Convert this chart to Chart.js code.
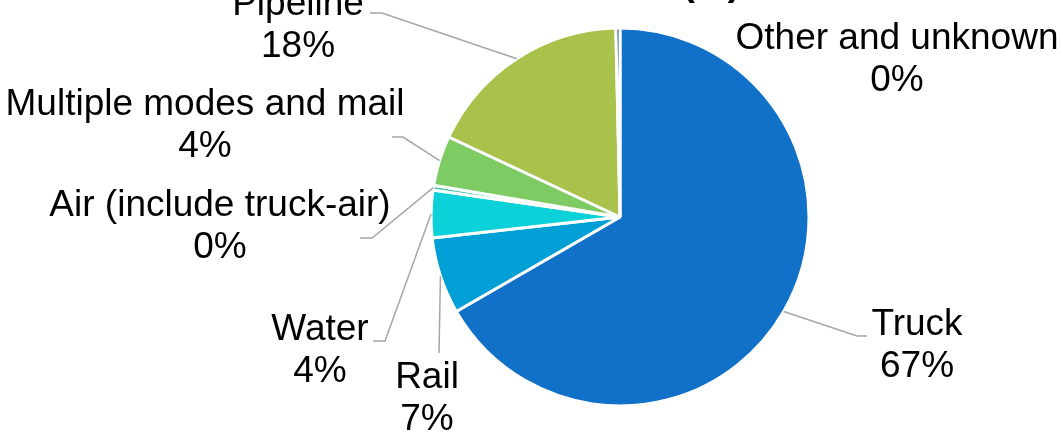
<!DOCTYPE html>
<html>
<head>
<meta charset="utf-8">
<script src="https://cdn.jsdelivr.net/npm/chart.js@4"></script>
<style>
  html, body { margin: 0; padding: 0; background: #fff; }
  #wrap { width: 1061px; height: 435px; position: relative; }
</style>
</head>
<body>
<div id="wrap"><canvas id="modeChart"></canvas></div>
<script>
// data (share of tonnage, %)
const modes = ["Truck", "Rail", "Water", "Air (include truck-air)", "Multiple modes and mail", "Pipeline", "Other and unknown"];
const shares = [66.7, 6.55, 4.06, 0.4, 4.28, 17.7, 0.35];
const colors = ["#1170C8", "#009FD6", "#0DD1D8", "#3CC8A8", "#7DCB62", "#A9C24B", "#1B4C8C"];

// where each label sits: centre x, first baseline, and leader line points after the arc
const labelX = [917, 427, 320, 220, 205, 298, 897];
const labelY = [335, 388, 340, 216, 115, 15, 49];
const leaders = [
  [[857, 336], [867, 336]],
  [[439, 353]],
  [[385, 341], [373, 341]],
  [[372, 238], [360, 238]],
  [[403, 137], [392, 137]],
  [[382, 13], [370, 13]],
  []
];

const FONT = '37px "Liberation Sans", Arial, sans-serif';

const pieLabels = {
  id: "pieLabels",
  afterDraw(chart) {
    const ctx = chart.ctx;
    const meta = chart.getDatasetMeta(0);
    const total = shares.reduce((a, b) => a + b, 0);
    ctx.save();

    // title, cut off above the picture (only the bracket tails show)
    ctx.font = 'bold 37px "Liberation Sans", Arial, sans-serif';
    ctx.fillStyle = "#000";
    ctx.textAlign = "right";
    ctx.textBaseline = "alphabetic";
    ctx.fillText("Modal Share in Tons (%)", 740, -5);

    meta.data.forEach((arc, i) => {
      const p = arc.getProps(["x", "y", "startAngle", "endAngle", "outerRadius"], true);
      const mid = (p.startAngle + p.endAngle) / 2;
      const pts = leaders[i];
      if (pts.length) {
        ctx.beginPath();
        ctx.moveTo(p.x + Math.cos(mid) * p.outerRadius, p.y + Math.sin(mid) * p.outerRadius);
        pts.forEach(q => ctx.lineTo(q[0], q[1]));
        ctx.strokeStyle = "#A6A6A6";
        ctx.lineWidth = 1.5;
        ctx.stroke();
      }
      ctx.font = FONT;
      ctx.fillStyle = "#000";
      ctx.textAlign = "center";
      ctx.fillText(modes[i], labelX[i], labelY[i]);
      ctx.fillText(Math.round(shares[i] / total * 100) + "%", labelX[i], labelY[i] + 42);
    });
    ctx.restore();
  }
};

new Chart(document.getElementById("modeChart"), {
  type: "pie",
  data: {
    labels: modes,
    datasets: [{
      data: shares,
      backgroundColor: colors,
      borderColor: "#ffffff",
      borderWidth: 3
    }]
  },
  options: {
    responsive: true,
    maintainAspectRatio: false,
    animation: false,
    radius: 189,
    layout: { padding: { left: 179, right: 0, top: 0, bottom: 1 } },
    plugins: {
      legend: { display: false },
      tooltip: { enabled: false }
    }
  },
  plugins: [pieLabels]
});
</script>
</body>
</html>
